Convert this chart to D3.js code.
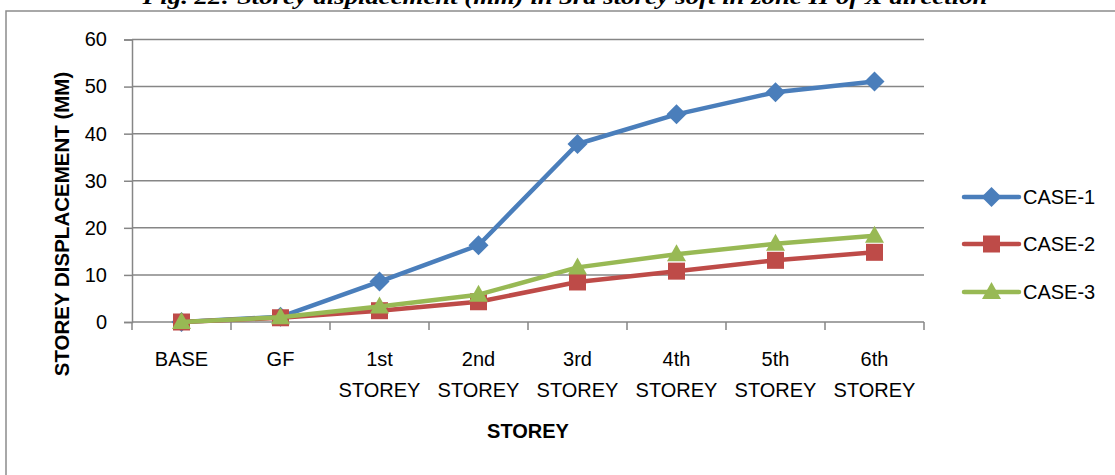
<!DOCTYPE html>
<html><head><meta charset="utf-8">
<script src="https://cdn.jsdelivr.net/npm/d3@7"></script>
<style>html,body{margin:0;padding:0;background:#fff;}svg{display:block;}</style>
</head><body>
<svg id="chart" width="1115" height="475"></svg>
<script>
const titleText = "Fig. 22: Storey displacement (mm) in 3rd storey soft in zone II of X direction";
const categories = ["BASE", "GF", "1st STOREY", "2nd STOREY", "3rd STOREY", "4th STOREY", "5th STOREY", "6th STOREY"];
const case1 = [0, 1.1, 8.6, 16.3, 37.8, 44.1, 48.8, 51.1];
const case2 = [0, 0.9, 2.4, 4.3, 8.5, 10.8, 13.1, 14.8];
const case3 = [0, 1.0, 3.3, 5.8, 11.6, 14.4, 16.6, 18.3];
const seriesNames = ["CASE-1", "CASE-2", "CASE-3"];
const yTicks = [0, 10, 20, 30, 40, 50, 60];

(function () {
const colors = ["#4a7ebb", "#be4b48", "#98b954"];
const shapes = ["diamond", "square", "triangle"];
const series = [case1, case2, case3].map((v, i) => ({name: seriesNames[i], values: v, color: colors[i], shape: shapes[i]}));

const svg = d3.select("#chart");
const font = "'Liberation Sans', Arial, sans-serif";

// outer frame
svg.append("rect").attr("x", 6).attr("y", 11).attr("width", 1200).attr("height", 600)
  .attr("fill", "none").attr("stroke", "#8c8c8c").attr("stroke-width", 1.5);

// title (clipped at top)
svg.append("text").attr("x", 565).attr("y", 4).attr("text-anchor", "middle")
  .attr("font-family", "'Liberation Serif', 'Times New Roman', serif")
  .attr("font-weight", "bold").attr("font-style", "italic").attr("font-size", 22)
  .attr("textLength", 845).attr("lengthAdjust", "spacingAndGlyphs")
  .text(titleText);

const pLeft = 132, pRight = 924, pTop = 39.5, pBottom = 322;
const x = d3.scaleBand().domain(categories).range([pLeft, pRight]);
const y = d3.scaleLinear().domain([0, 60]).range([pBottom, pTop]);

// gridlines
svg.append("g").selectAll("line").data(yTicks.filter(d => d > 0)).join("line")
  .attr("x1", pLeft).attr("x2", pRight).attr("y1", d => y(d)).attr("y2", d => y(d))
  .attr("stroke", "#868686").attr("stroke-width", 1.5);

// y axis
const yAxis = svg.append("g").attr("transform", `translate(${pLeft},0)`)
  .call(d3.axisLeft(y).tickValues(yTicks).tickSize(8).tickPadding(17));
yAxis.select(".domain").attr("stroke", "#868686").attr("stroke-width", 1.5);
yAxis.selectAll(".tick line").attr("stroke", "#868686").attr("stroke-width", 1.5);
yAxis.selectAll("text").attr("font-family", font).attr("font-size", 20).attr("fill", "#000");

// x axis line and ticks at boundaries
svg.append("line").attr("x1", pLeft).attr("x2", pRight).attr("y1", pBottom).attr("y2", pBottom)
  .attr("stroke", "#868686").attr("stroke-width", 1.5);
const bounds = categories.map(c => x(c)).concat([pRight]);
svg.append("g").selectAll("line").data(bounds).join("line")
  .attr("x1", d => d).attr("x2", d => d).attr("y1", pBottom).attr("y2", pBottom + 8)
  .attr("stroke", "#868686").attr("stroke-width", 1.5);

// x tick labels
const xl = svg.append("g");
categories.forEach(c => {
  const cx = x(c) + x.bandwidth() / 2;
  const parts = c.split(" ");
  const t = xl.append("text").attr("text-anchor", "middle").attr("font-family", font)
    .attr("font-size", 20).attr("fill", "#000");
  parts.forEach((p, i) => {
    t.append("tspan").attr("x", cx).attr("y", 366 + i * 31).text(p);
  });
});

// axis titles
svg.append("text").attr("x", 528).attr("y", 438).attr("text-anchor", "middle")
  .attr("font-family", font).attr("font-weight", "bold").attr("font-size", 20).text("STOREY");
svg.append("text").attr("transform", "translate(69,224) rotate(-90)").attr("text-anchor", "middle")
  .attr("font-family", font).attr("font-weight", "bold").attr("font-size", 20.5)
  .text("STOREY DISPLACEMENT (MM)");

// markers
function drawMarker(g, shape, cx, cy, color) {
  if (shape === "diamond") {
    g.append("path").attr("d", `M${cx},${cy - 10}L${cx + 10},${cy}L${cx},${cy + 10}L${cx - 10},${cy}Z`)
      .attr("fill", color);
  } else if (shape === "square") {
    g.append("rect").attr("x", cx - 8.5).attr("y", cy - 8.5).attr("width", 17).attr("height", 17)
      .attr("fill", color);
  } else {
    g.append("path").attr("d", `M${cx},${cy - 10}L${cx + 9.5},${cy + 7}L${cx - 9.5},${cy + 7}Z`)
      .attr("fill", color);
  }
}

const line = d3.line().x((d, i) => x(categories[i]) + x.bandwidth() / 2).y(d => y(d));
series.forEach(s => {
  const g = svg.append("g");
  g.append("path").datum(s.values).attr("d", line).attr("fill", "none")
    .attr("stroke", s.color).attr("stroke-width", 4.5).attr("stroke-linejoin", "round").attr("stroke-linecap", "round");
  s.values.forEach((v, i) => drawMarker(g, s.shape, x(categories[i]) + x.bandwidth() / 2, y(v), s.color));
});

// legend
const legY = [197, 244, 292];
series.forEach((s, i) => {
  const g = svg.append("g");
  g.append("line").attr("x1", 964).attr("x2", 1019).attr("y1", legY[i]).attr("y2", legY[i])
    .attr("stroke", s.color).attr("stroke-width", 4.5).attr("stroke-linecap", "round");
  drawMarker(g, s.shape, 991.5, legY[i], s.color);
  g.append("text").attr("x", 1023).attr("y", legY[i] + 7).attr("font-family", font)
    .attr("font-size", 20).attr("fill", "#000").text(s.name);
});
})();
</script>
</body></html>
